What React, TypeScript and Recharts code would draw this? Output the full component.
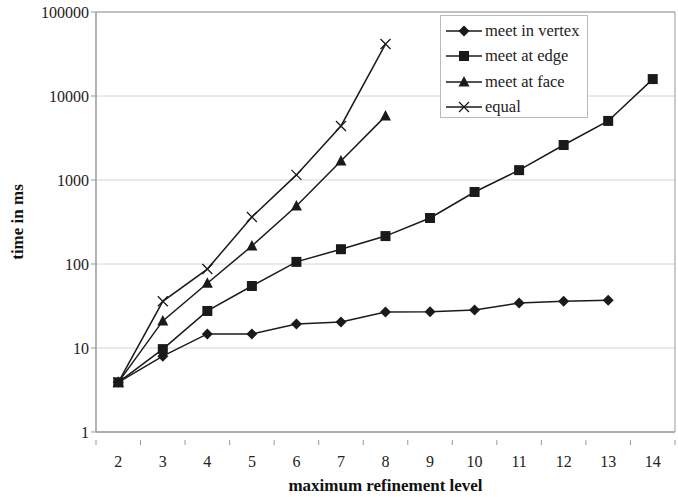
import { CartesianGrid, Line, LineChart, ReferenceArea, XAxis, YAxis } from "recharts";

const levels = [2, 3, 4, 5, 6, 7, 8, 9, 10, 11, 12, 13, 14];
const meetInVertex = [3.9, 8, 14.7, 14.7, 19.3, 20.4, 26.8, 27, 28.3, 34.3, 36, 37, null];
const meetAtEdge = [3.9, 9.7, 27.6, 54.7, 106, 150, 215, 353, 720, 1310, 2610, 5050, 15900];
const meetAtFace = [3.9, 21, 59, 164, 490, 1680, 5760, null, null, null, null, null, null];
const equal = [3.9, 36, 87, 363, 1150, 4400, 41500, null, null, null, null, null, null];
const yTicks = [1, 10, 100, 1000, 10000, 100000];

const seriesList = [
  { key: "vertex", name: "meet in vertex", shape: "diamond" },
  { key: "edge", name: "meet at edge", shape: "square" },
  { key: "face", name: "meet at face", shape: "triangle" },
  { key: "equal", name: "equal", shape: "cross" },
];

const data = levels.map((level, i) => ({
  level,
  vertex: meetInVertex[i],
  edge: meetAtEdge[i],
  face: meetAtFace[i],
  equal: equal[i],
}));

// x ticks: whole numbers get labels, halves get the little tick marks (between categories)
const xTicks: number[] = [];
for (let v = 1.5; v <= 14.5; v += 0.5) xTicks.push(v);

const FONT = '"Liberation Serif", "Times New Roman", serif';
const INK = "#1a1a1a";

function Marker({ cx, cy, shape }: { cx: number; cy: number; shape: string }) {
  if (cx == null || cy == null || isNaN(cy)) return null;
  if (shape === "diamond")
    return <polygon points={`${cx},${cy - 5.5} ${cx + 5.5},${cy} ${cx},${cy + 5.5} ${cx - 5.5},${cy}`} fill={INK} />;
  if (shape === "square") return <rect x={cx - 5} y={cy - 5} width={10} height={10} fill={INK} />;
  if (shape === "triangle")
    return <polygon points={`${cx},${cy - 6} ${cx + 5.5},${cy + 4.5} ${cx - 5.5},${cy + 4.5}`} fill={INK} />;
  return (
    <path d={`M${cx - 5},${cy - 5}L${cx + 5},${cy + 5}M${cx + 5},${cy - 5}L${cx - 5},${cy + 5}`} stroke={INK} strokeWidth={1.3} />
  );
}

function XTick(props: any) {
  const { x, y, payload } = props;
  const v = payload.value;
  if (Number.isInteger(v)) {
    return (
      <text x={x} y={y + 23} textAnchor="middle" dominantBaseline="middle" fontSize={16} fontFamily={FONT} fill="#222">
        {v}
      </text>
    );
  }
  return <line x1={x} x2={x} y1={y} y2={y + 5} stroke="#999" />;
}

function LegendBox() {
  return (
    <div
      style={{
        position: "absolute",
        left: 440,
        top: 15,
        width: 148,
        height: 103,
        border: "1px solid #bbb",
        background: "#fff",
        fontFamily: FONT,
        fontSize: 16.5,
        color: "#222",
        boxSizing: "border-box",
        paddingTop: 2,
      }}
    >
      {seriesList.map((s) => (
        <div key={s.key} style={{ display: "flex", alignItems: "center", height: 25.5 }}>
          <svg width={38} height={16} style={{ marginLeft: 4 }}>
            <line x1={1} x2={37} y1={8} y2={8} stroke={INK} strokeWidth={1.5} />
            <Marker cx={19} cy={8} shape={s.shape} />
          </svg>
          <span style={{ marginLeft: 2 }}>{s.name}</span>
        </div>
      ))}
    </div>
  );
}

export default function App() {
  return (
    <div style={{ position: "relative", width: 678, height: 497, background: "#fff" }}>
      <style>{"body{margin:0}"}</style>
      <LineChart width={678} height={497} data={data} margin={{ top: 12, right: 3, bottom: 0, left: 0 }}>
        <CartesianGrid vertical={false} stroke="#d4d4d4" />
        <XAxis
          dataKey="level"
          type="number"
          domain={[1.5, 14.5]}
          ticks={xTicks}
          interval={0}
          tickLine={false}
          axisLine={{ stroke: "#999" }}
          tick={<XTick />}
          height={65}
          label={{
            value: "maximum refinement level",
            position: "insideBottom",
            offset: 6,
            style: { fontFamily: FONT, fontSize: 17, fontWeight: "bold", fill: "#111" },
          }}
        />
        <YAxis
          scale="log"
          domain={[1, 100000]}
          ticks={yTicks}
          interval={0}
          width={96}
          allowDataOverflow
          axisLine={{ stroke: "#999" }}
          tickLine={{ stroke: "#999" }}
          tickSize={5}
          tick={{ fontFamily: FONT, fontSize: 16, fill: "#222" }}
          label={{
            value: "time in ms",
            angle: -90,
            position: "insideLeft",
            offset: 17,
            style: { textAnchor: "middle", fontFamily: FONT, fontSize: 17, fontWeight: "bold", fill: "#111" },
          }}
        />
        <ReferenceArea x1={1.5} x2={14.5} y1={1} y2={100000} fill="none" stroke="#999" />
        {seriesList.map((s) => (
          <Line
            key={s.key}
            dataKey={s.key}
            name={s.name}
            stroke={INK}
            strokeWidth={1.5}
            isAnimationActive={false}
            dot={(p: any) => <Marker key={`${s.key}-${p.index}`} cx={p.cx} cy={p.cy} shape={s.shape} />}
            activeDot={false}
          />
        ))}
      </LineChart>
      <LegendBox />
    </div>
  );
}
